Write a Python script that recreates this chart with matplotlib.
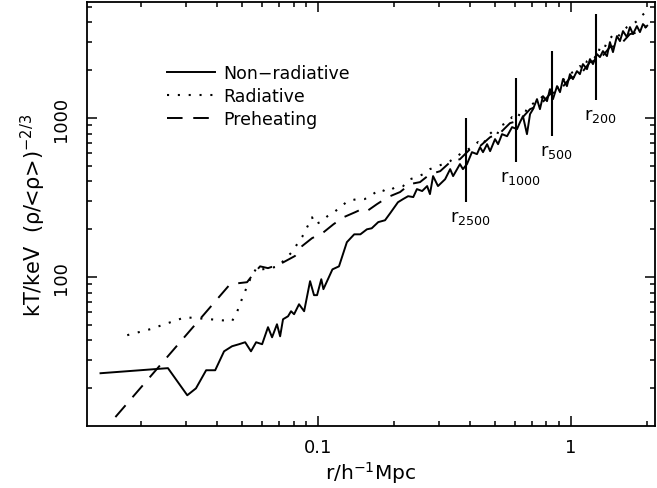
import numpy as np
import matplotlib
matplotlib.use('Agg')
import matplotlib.pyplot as plt
from matplotlib.ticker import LogLocator, NullFormatter, FixedLocator, FixedFormatter

plt.rcParams['font.family'] = 'DejaVu Sans'
plt.rcParams['mathtext.default'] = 'regular'

# Non-radiative run
r_nonrad = [0.0138, 0.0255, 0.0304, 0.0329, 0.0361, 0.0392, 0.0425, 0.0457, 0.0487, 0.0515,
            0.0543, 0.0569, 0.0601, 0.0634, 0.0658, 0.0688, 0.0708, 0.0727, 0.0761, 0.0782,
            0.0804, 0.0841, 0.0881, 0.0930, 0.0964, 0.0991, 0.103, 0.105, 0.114, 0.121,
            0.130, 0.139, 0.147, 0.156, 0.163, 0.173, 0.184, 0.193, 0.207, 0.217,
            0.227, 0.238, 0.246, 0.258, 0.270, 0.277, 0.285, 0.298, 0.318, 0.333,
            0.342, 0.364, 0.374, 0.388, 0.406, 0.425, 0.437, 0.449, 0.466, 0.479,
            0.501, 0.515, 0.534, 0.559, 0.585, 0.612, 0.629, 0.646, 0.670, 0.689,
            0.708, 0.734, 0.754, 0.775, 0.804, 0.826, 0.849, 0.881, 0.905, 0.930,
            0.964, 0.991, 1.018, 1.056, 1.085, 1.115, 1.157, 1.189, 1.222, 1.267,
            1.302, 1.338, 1.388, 1.426, 1.466, 1.520, 1.562, 1.606, 1.665, 1.711,
            1.759, 1.823, 1.874, 1.926, 1.979]
T_nonrad = [24.9, 26.8, 18.1, 20.0, 26.0, 26.0, 34.2, 36.8, 37.9, 39.0,
            34.2, 39.0, 37.9, 48.5, 41.9, 50.6, 42.5, 54.4, 56.8, 61.1,
            58.5, 67.6, 61.1, 94.4, 77.1, 77.1, 97.1, 84.1, 112, 117,
            166, 186, 186, 200, 203, 222, 228, 253, 296, 310,
            323, 319, 358, 348, 374, 333, 432, 374, 413, 478,
            432, 514, 478, 514, 611, 594, 657, 611, 686, 620,
            738, 686, 793, 770, 878, 853, 944, 1029, 793, 1060,
            1139, 1317, 1139, 1375, 1279, 1522, 1317, 1590, 1457, 1759,
            1590, 1891, 1759, 1975, 1891, 2186, 2033, 2350, 2186, 2526,
            2419, 2639, 2455, 3006, 2601, 3280, 3050, 3525, 3231, 3735,
            3376, 3790, 3475, 3902, 3735]

# Radiative run
r_rad = [0.0176, 0.0217, 0.0298, 0.0374, 0.0457, 0.0478, 0.0505, 0.0539, 0.0574, 0.0601,
         0.0646, 0.0695, 0.0741, 0.0789, 0.0826, 0.0865, 0.0905, 0.0947, 0.0973, 0.102,
         0.109, 0.117, 0.124, 0.131, 0.143, 0.153, 0.165, 0.176, 0.187, 0.202,
         0.217, 0.231, 0.246, 0.260, 0.277, 0.290, 0.312, 0.333, 0.354, 0.381,
         0.406, 0.429, 0.449, 0.466, 0.492, 0.510, 0.524, 0.564, 0.585, 0.612,
         0.640, 0.670, 0.695, 0.721, 0.754, 0.789, 0.818, 0.849, 0.881, 0.905,
         0.938, 0.964, 1.000, 1.037, 1.085, 1.126, 1.157, 1.222, 1.267, 1.302,
         1.350, 1.388, 1.466, 1.520, 1.562, 1.665, 1.759, 1.823, 1.874, 1.979]
T_rad = [43.2, 47.1, 56.0, 54.4, 52.9, 60.3, 76.0, 97.1, 116, 112,
         114, 117, 130, 144, 161, 179, 206, 238, 215, 222,
         242, 260, 280, 301, 310, 310, 333, 358, 343, 368,
         374, 413, 426, 444, 478, 492, 514, 537, 577, 620,
         657, 707, 675, 770, 829, 782, 891, 944, 1015, 986,
         1139, 1107, 1207, 1261, 1317, 1415, 1457, 1567, 1522, 1709,
         1759, 1837, 1919, 1975, 2123, 2063, 2283, 2455, 2384, 2796,
         2716, 3006, 3327, 3186, 3376, 3735, 3902, 4074, 4317, 4642]

# Preheating run
r_pre = [0.0158, 0.0449, 0.0524, 0.0553, 0.0590, 0.0634, 0.0708, 0.0811, 0.0865, 0.0947,
         0.104, 0.115, 0.126, 0.140, 0.149, 0.156, 0.171, 0.189, 0.211, 0.231,
         0.253, 0.277, 0.304, 0.333, 0.364, 0.399, 0.437, 0.479, 0.524, 0.574,
         0.629, 0.689, 0.754, 0.826, 0.905, 0.991, 1.085, 1.189, 1.302, 1.426,
         1.562, 1.711, 1.874, 2.015]
T_pre = [13.2, 90.4, 93.0, 104, 117, 114, 121, 136, 157, 176,
         189, 215, 238, 256, 268, 260, 288, 319, 343, 385,
         396, 444, 464, 529, 552, 638, 667, 759, 805, 930,
         971, 1139, 1207, 1415, 1500, 1785, 1864, 2250, 2350, 2796,
         2878, 3376, 3475, 3846]

# overdensity radii markers
r_delta = [0.385, 0.606, 0.841, 1.255]
delta_lo = [296, 528, 771, 1298]
delta_hi = [1000, 1786, 2637, 4510]
delta_names = ['2500', '1000', '500', '200']

fig = plt.figure(figsize=(6.57, 4.89), dpi=100)
ax = fig.add_axes([0.1324, 0.1268, 0.8646, 0.867])

ax.plot(r_nonrad, T_nonrad, color='black', lw=1.4, ls='-', label='Non\u2212radiative')
ax.plot(r_rad, T_rad, color='black', lw=1.5, ls=(0, (1.0, 4.2)), label='Radiative')
ax.plot(r_pre, T_pre, color='black', lw=1.4, ls=(0, (8, 5.5)), label='Preheating')

ax.vlines(r_delta, delta_lo, delta_hi, color='black', lw=1.5)
for x, lo, name in zip(r_delta, delta_lo, delta_names):
    ax.annotate('r$_{' + name + '}$', xy=(x, lo), xytext=(3, -4), textcoords='offset points',
                ha='center', va='top', fontsize=13)

ax.set_xscale('log')
ax.set_yscale('log')
ax.set_xlim(0.0122, 2.15)
ax.set_ylim(11.6, 5370)

ax.xaxis.set_major_locator(FixedLocator([0.1, 1]))
ax.xaxis.set_major_formatter(FixedFormatter(['0.1', '1']))
ax.xaxis.set_minor_locator(LogLocator(base=10, subs=np.arange(2, 10)))
ax.xaxis.set_minor_formatter(NullFormatter())
ax.yaxis.set_major_locator(FixedLocator([100, 1000]))
ax.yaxis.set_major_formatter(FixedFormatter(['100', '1000']))
ax.yaxis.set_minor_locator(LogLocator(base=10, subs=np.arange(2, 10)))
ax.yaxis.set_minor_formatter(NullFormatter())

ax.tick_params(which='both', direction='in', top=True, right=True, width=1.1, labelsize=13)
ax.tick_params(which='major', length=7.5)
ax.tick_params(which='minor', length=3.8)
ax.tick_params(axis='x', pad=9)
ax.tick_params(axis='y', pad=12)
for lab in ax.get_yticklabels():
    lab.set_rotation(90)
    lab.set_va('center')
for s in ax.spines.values():
    s.set_linewidth(1.3)

ax.set_xlabel('r/h$^{-1}$Mpc', fontsize=14.5, labelpad=2)
ax.set_ylabel(r'kT/keV  ($\rho$/<$\rho$>)$^{-2/3}$', fontsize=15, labelpad=3)

ax.legend(loc='upper left', bbox_to_anchor=(0.1407, 0.853), frameon=False,
          borderaxespad=0, borderpad=0, handlelength=2.76, handletextpad=0.46,
          labelspacing=0.27, fontsize=12.5)

fig.savefig('out.png', dpi=100)
